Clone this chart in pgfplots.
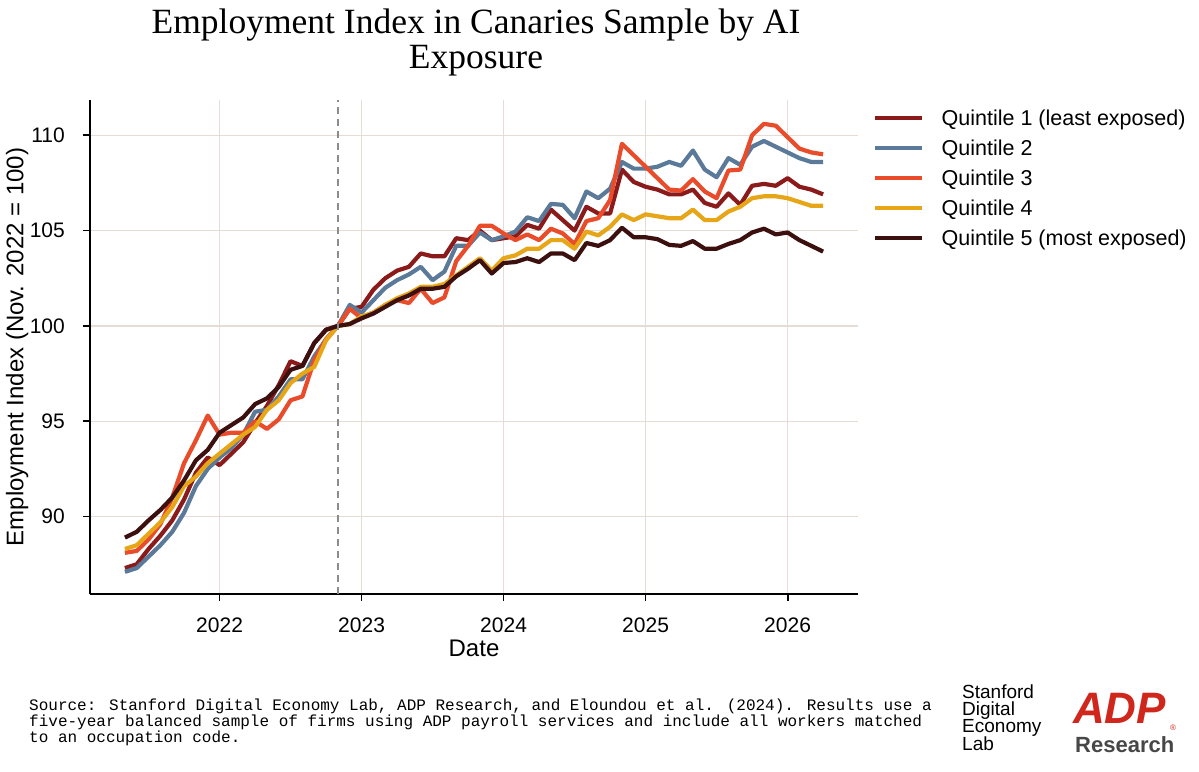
\documentclass[border=0pt]{standalone}
\usepackage{pgfplots}
\usepackage{pgfplotstable}
\pgfplotsset{compat=1.18}
\usepackage{fontspec}
\setmainfont{Liberation Sans}
\newfontfamily\titlefont{Liberation Serif}
\newfontfamily\footfont{Liberation Mono}
\definecolor{qone}{HTML}{8B1A1A}
\definecolor{qtwo}{HTML}{5B7A99}
\definecolor{qthree}{HTML}{E84C2A}
\definecolor{qfour}{HTML}{E6A617}
\definecolor{qfive}{HTML}{3D1010}
\definecolor{gridc}{HTML}{E6DCD6}
\definecolor{dashc}{HTML}{8C8C8C}
\definecolor{adpred}{HTML}{D0271D}
\definecolor{resgray}{HTML}{474747}

\pgfplotstableread{
m q1 q2 q3 q4 q5
0 87.3 87.1 88.1 88.3 88.9
1 87.5 87.3 88.2 88.5 89.2
2 88.3 87.9 88.8 89.1 89.8
3 89.0 88.5 89.6 89.7 90.35
4 89.8 89.2 91.0 90.5 91.0
5 90.9 90.2 92.8 91.6 91.9
6 92.3 91.6 94.0 92.1 92.95
7 93.1 92.5 95.3 92.8 93.5
8 92.7 93.1 94.3 93.3 94.4
9 93.3 93.6 94.4 93.8 94.8
10 93.9 94.3 94.4 94.3 95.2
11 94.9 95.5 95.0 94.7 95.9
12 95.8 95.6 94.6 95.6 96.2
13 96.9 96.3 95.1 96.1 96.8
14 98.15 97.2 96.1 97.0 97.7
15 97.9 97.2 96.3 97.5 97.9
16 99.1 98.4 98.2 97.85 99.1
17 99.8 99.3 99.3 99.25 99.8
18 100 100 100 100 100
19 100.9 101.1 100.9 100.1 100.1
20 101.0 100.7 100.4 100.5 100.4
21 101.9 101.35 100.7 100.7 100.65
22 102.5 102.0 101.1 101.1 101.0
23 102.9 102.4 101.35 101.45 101.35
24 103.1 102.7 101.2 101.7 101.6
25 103.8 103.1 101.95 102.05 101.95
26 103.65 102.4 101.2 102.05 101.95
27 103.65 102.85 101.5 102.2 102.05
28 104.6 104.2 103.4 102.65 102.6
29 104.5 104.2 104.2 103.1 103.0
30 105.0 104.9 105.25 103.55 103.45
31 104.5 104.5 105.25 102.9 102.75
32 104.6 104.7 104.85 103.55 103.3
33 104.7 104.95 104.5 103.7 103.35
34 105.3 105.7 104.8 104.05 103.55
35 105.1 105.5 104.5 104.05 103.35
36 106.1 106.4 105.1 104.5 103.8
37 105.55 106.35 104.85 104.5 103.8
38 105.0 105.65 104.3 104.05 103.45
39 106.25 107.05 105.5 104.95 104.35
40 105.9 106.7 105.65 104.75 104.2
41 105.9 107.2 106.6 105.2 104.5
42 108.2 108.6 109.55 105.85 105.15
43 107.55 108.25 108.95 105.55 104.65
44 107.3 108.25 108.35 105.85 104.65
45 107.15 108.35 107.75 105.75 104.55
46 106.9 108.6 107.15 105.65 104.25
47 106.9 108.4 107.1 105.65 104.2
48 107.15 109.2 107.7 106.1 104.45
49 106.45 108.2 107.05 105.55 104.05
50 106.25 107.8 106.7 105.55 104.05
51 106.95 108.8 108.15 106.0 104.3
52 106.35 108.45 108.2 106.25 104.5
53 107.35 109.4 110.0 106.7 104.9
54 107.45 109.7 110.6 106.8 105.1
55 107.35 109.4 110.5 106.8 104.8
56 107.75 109.1 109.9 106.7 104.9
57 107.3 108.8 109.3 106.5 104.5
58 107.15 108.6 109.1 106.3 104.2
59 106.9 108.6 109.0 106.3 103.9
}\datatable

\begin{document}
\begin{tikzpicture}
\useasboundingbox (0,0) rectangle (1199pt,771pt);
% title
\node[anchor=base, font=\titlefont\fontsize{35.5}{35.5}\selectfont] at (476pt,737.25pt) {Employment Index in Canaries Sample by AI};
\node[anchor=base, font=\titlefont\fontsize{35.5}{35.5}\selectfont] at (476pt,702.25pt) {Exposure};
\begin{axis}[
  at={(90pt,177pt)}, anchor=south west,
  scale only axis, width=768pt, height=494pt,
  xmin=-2.95, xmax=61.95, ymin=85.94, ymax=111.85,
  axis x line*=bottom, axis y line*=left,
  axis line style={black, line width=1.8pt},
  xtick={8,20,32,44,56}, xticklabels={2022,2023,2024,2025,2026},
  ytick={90,95,100,105,110},
  /pgf/number format/assume math mode=true,
  grid=major, major grid style={color=gridc, line width=1.2pt},
  tick align=outside, major tick length=7pt,
  tick style={black, line width=1.8pt},
  ticklabel style={font=\fontsize{21}{21}\selectfont},
  yticklabel style={anchor=east, inner sep=0pt, xshift=-18pt},
  xticklabel style={anchor=north, inner sep=0pt, yshift=-17pt},
  xlabel={Date}, ylabel={Employment Index (Nov. 2022 = 100)},
  every axis x label/.style={at={(rel axis cs:0.5,0)}, anchor=base, yshift=-62.6pt, font=\fontsize{24}{24}\selectfont},
  every axis y label/.style={at={(rel axis cs:0,0.5)}, anchor=base, xshift=-66.5pt, rotate=90, font=\fontsize{24}{24}\selectfont},
  legend image code/.code={\draw[#1, line width=4.5pt] (0pt,0pt) -- (47pt,0pt);},
  legend cell align=left,
  legend style={at={(1,1)}, anchor=north west, xshift=15pt, yshift=-10.3pt,
     draw=none, fill=none, inner sep=0pt, column sep=17pt, row sep=14.6pt,
     font=\fontsize{21.5}{21.5}\selectfont,
     nodes={inner sep=0pt, text height=15.4pt, text depth=0pt}},
  every axis plot/.append style={line width=4.2pt, line join=round},
]
\addplot[qone] table[x=m, y=q1] {\datatable};
\addlegendentry{Quintile 1 (least exposed)}
\addplot[qtwo] table[x=m, y=q2] {\datatable};
\addlegendentry{Quintile 2}
\addplot[qthree] table[x=m, y=q3] {\datatable};
\addlegendentry{Quintile 3}
\addplot[qfour] table[x=m, y=q4] {\datatable};
\addlegendentry{Quintile 4}
\addplot[qfive] table[x=m, y=q5] {\datatable};
\addlegendentry{Quintile 5 (most exposed)}
\draw[dashc, line width=2.5pt, dash pattern=on 7pt off 5pt] (axis cs:18,85.94) -- (axis cs:18,111.85);
\end{axis}
% footnote
\node[anchor=base west, inner sep=0pt, font=\footfont\fontsize{16}{16}\selectfont] at (29pt,60.5pt) {Source: Stanford Digital Economy Lab, ADP Research, and Eloundou et al. (2024). Results use a};
\node[anchor=base west, inner sep=0pt, font=\footfont\fontsize{16}{16}\selectfont] at (29pt,44.5pt) {five-year balanced sample of firms using ADP payroll services and include all workers matched};
\node[anchor=base west, inner sep=0pt, font=\footfont\fontsize{16}{16}\selectfont] at (29pt,28.5pt) {to an occupation code.};
% Stanford logo
\node[anchor=base west, inner sep=0pt, font=\fontsize{19}{19}\selectfont] at (962pt,73pt) {Stanford};
\node[anchor=base west, inner sep=0pt, font=\fontsize{19}{19}\selectfont] at (962pt,55.7pt) {Digital};
\node[anchor=base west, inner sep=0pt, font=\fontsize{19}{19}\selectfont] at (962pt,38.4pt) {Economy};
\node[anchor=base west, inner sep=0pt, font=\fontsize{19}{19}\selectfont] at (962pt,21pt) {Lab};
% ADP logo
\node[anchor=base west, inner sep=0pt, text=adpred, font=\bfseries\itshape\fontsize{44}{44}\selectfont] at (1073pt,48pt) {ADP};
\node[anchor=base west, inner sep=0pt, text=adpred, font=\fontsize{8}{8}\selectfont] at (1170pt,41pt) {®};
\node[anchor=base west, inner sep=0pt, text=resgray, font=\bfseries\fontsize{22}{22}\selectfont] at (1075pt,19pt) {Research};
\end{tikzpicture}
\end{document}
